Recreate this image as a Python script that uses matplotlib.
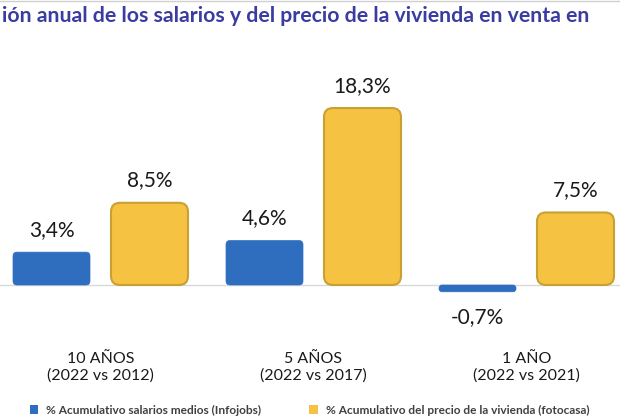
import matplotlib
matplotlib.use('Agg')
import matplotlib.pyplot as plt
from matplotlib.patches import FancyBboxPatch, Patch
from matplotlib.lines import Line2D
import numpy as np

plt.rcParams['font.family'] = ['Lato', 'DejaVu Sans']

categorias = ['10 AÑOS\n(2022 vs 2012)', '5 AÑOS\n(2022 vs 2017)', '1 AÑO\n(2022 vs 2021)']
salarios = [3.4, 4.6, -0.7]
vivienda = [8.5, 18.3, 7.5]
etiquetas_sal = ['3,4%', '4,6%', '-0,7%']
etiquetas_viv = ['8,5%', '18,3%', '7,5%']
leyenda = ['% Acumulativo salarios medios (Infojobs)',
           '% Acumulativo del precio de la vivienda (fotocasa)']
titulo = 'ión anual de los salarios y del precio de la vivienda en venta en'

azul = '#2f6ebf'
amarillo = '#f5c242'
borde_amarillo = '#c9a032'

W, H = 620, 420
fig = plt.figure(figsize=(W / 100, H / 100), dpi=100)
ax = fig.add_axes([0, 0, 1, 1])
ax.axis('off')

# escala: 213 px por grupo, 9.67 px por punto porcentual, base en y=285 px
px_x = 213.0
px_y = 9.67
x0 = 100.5
base = 285.0
ax.set_xlim(-x0 / px_x, (W - x0) / px_x)
ax.set_ylim(-(H - base) / px_y, base / px_y)

x = np.arange(len(categorias))
ancho = 77 / px_x
desp = 49 / px_x

ax.axhline(0, color='#d9d9d9', lw=1, zorder=1)

b1 = ax.bar(x - desp, salarios, ancho, color=azul)
b2 = ax.bar(x + desp, vivienda, ancho, color=amarillo)

aspect = px_x / px_y


def redondear(barras, radio_px, color, borde, lw):
    for r in barras:
        h = r.get_height()
        y = r.get_y()
        if h < 0:
            y, h = y + h, -h
        rad = min(radio_px, abs(h) * px_y / 2.2)
        p = FancyBboxPatch((r.get_x(), y), r.get_width(), h,
                           boxstyle='round,pad=0,rounding_size=%f' % (rad / px_x),
                           mutation_aspect=aspect,
                           facecolor=color, edgecolor=borde, lw=lw, zorder=2)
        ax.add_patch(p)
        r.remove()


redondear(b1, 4, azul, azul, 0.5)
redondear(b2, 9, amarillo, borde_amarillo, 1.5)

for xi, v, t in zip(x - desp, salarios, etiquetas_sal):
    off = 16 if v >= 0 else -18
    ax.annotate(t, (xi, v), xytext=(0, off), textcoords='offset points',
                ha='center', va='center', fontsize=15, color='#1a1a1a')
for xi, v, t in zip(x + desp, vivienda, etiquetas_viv):
    ax.annotate(t, (xi, v), xytext=(0, 16), textcoords='offset points',
                ha='center', va='center', fontsize=15, color='#1a1a1a')

for xi, c in zip(x, categorias):
    ax.text(xi, -(367 - base) / px_y, c, ha='center', va='center',
            fontsize=11.5, linespacing=1.2, color='#1a1a1a')

fig.text(2 / W, 1 - 16 / H, titulo, ha='left', va='center', fontsize=15.3,
         fontweight='bold', color='#3a3ca0')
fig.add_artist(Line2D([0, 1], [1 - 0.5 / H, 1 - 0.5 / H], color='#d0d0d0', lw=1))

handles = [Patch(facecolor=azul), Patch(facecolor=amarillo)]
fig.legend(handles, leyenda, ncol=2, loc='center left',
           bbox_to_anchor=(19 / W, 1 - 410 / H), frameon=False,
           handlelength=0.7, handleheight=0.7, handletextpad=0.7,
           columnspacing=4.0, labelcolor='#404040',
           prop={'weight': 'bold', 'size': 8.6})

fig.savefig('out.png', dpi=100)
